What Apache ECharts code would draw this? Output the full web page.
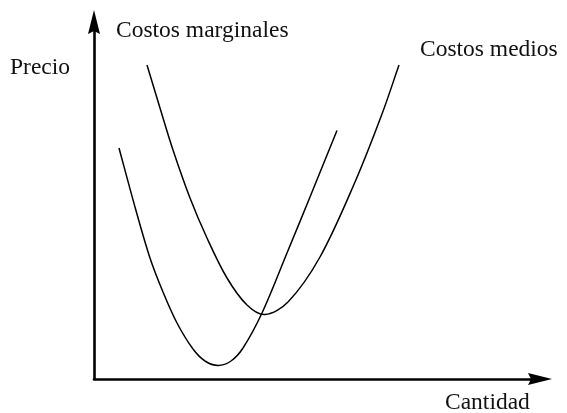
<!DOCTYPE html>
<html>
<head>
<meta charset="utf-8">
<script src="https://cdn.jsdelivr.net/npm/echarts@6/dist/echarts.min.js"></script>
<style>html,body{margin:0;padding:0;background:#fff}#c{width:567px;height:413px}</style>
</head>
<body>
<div id="c"></div>
<script>
// Curve data (cantidad, precio) in arbitrary units
var costosMarginales = [
  [25, 231], [41, 172], [56, 121], [69, 87], [83, 56], [99, 30], [111, 18], [124, 13.5],
  [137, 18], [149, 31], [168, 66], [193, 126], [216, 182], [243, 248.5]
];
var costosMedios = [
  [53, 314], [66, 271], [79, 229], [96, 181], [113, 141], [133, 101], [153, 74], [171, 64.5],
  [194, 77], [226, 122], [261, 197], [288, 265], [305, 314]
];
var labelMarginales = 'Costos marginales';
var labelMedios = 'Costos medios';
var labelPrecio = 'Precio';
var labelCantidad = 'Cantidad';

var FONT = '"Liberation Serif", "Times New Roman", serif';
var ARROW = 'path://M6,0 L12,24 L6,21 L0,24 Z';
var chart = echarts.init(document.getElementById('c'), null, {renderer: 'canvas'});
function txt(t, x, y) {
  return {type: 'text', x: x, y: y, style: {text: t, fontSize: 23.5, fontFamily: FONT, fill: '#111', align: 'left', verticalAlign: 'middle'}};
}
// Smooth curve through the data points (mapped with api.coord), drawn as bezier segments
function curveRenderer(values) {
  return function (params, api) {
    if (params.dataIndex !== 0) return null;
    var p = values.map(function (d) { return api.coord(d); });
    var n = p.length;
    function dist(a, b) { return Math.hypot(b[0] - a[0], b[1] - a[1]); }
    function tangent(i) {
      if (i === 0) { var d = dist(p[0], p[1]); return [(p[1][0] - p[0][0]) / d, (p[1][1] - p[0][1]) / d]; }
      if (i === n - 1) { var e = dist(p[n - 2], p[n - 1]); return [(p[n - 1][0] - p[n - 2][0]) / e, (p[n - 1][1] - p[n - 2][1]) / e]; }
      var s = dist(p[i - 1], p[i]) + dist(p[i], p[i + 1]);
      return [(p[i + 1][0] - p[i - 1][0]) / s, (p[i + 1][1] - p[i - 1][1]) / s];
    }
    var children = [];
    for (var i = 0; i < n - 1; i++) {
      var L = dist(p[i], p[i + 1]) / 3;
      var t0 = tangent(i), t1 = tangent(i + 1);
      children.push({
        type: 'bezierCurve',
        shape: {
          x1: p[i][0], y1: p[i][1], x2: p[i + 1][0], y2: p[i + 1][1],
          cpx1: p[i][0] + t0[0] * L, cpy1: p[i][1] + t0[1] * L,
          cpx2: p[i + 1][0] - t1[0] * L, cpy2: p[i + 1][1] - t1[1] * L
        },
        style: {stroke: '#000', lineWidth: 1.5, fill: null}
      });
    }
    return {type: 'group', children: children};
  };
}
chart.setOption({
  animation: false,
  backgroundColor: '#fff',
  grid: {left: 94, top: 22, right: 27, bottom: 34},
  xAxis: {
    type: 'value', min: 0, max: 446,
    axisLine: {show: true, lineStyle: {color: '#000', width: 2.6}, symbol: ['none', ARROW], symbolSize: [12, 24]},
    axisTick: {show: false}, axisLabel: {show: false}, splitLine: {show: false}
  },
  yAxis: {
    type: 'value', min: 0, max: 357,
    axisLine: {show: true, lineStyle: {color: '#000', width: 2.6}, symbol: ['none', ARROW], symbolSize: [12, 24]},
    axisTick: {show: false}, axisLabel: {show: false}, splitLine: {show: false}
  },
  series: [
    {type: 'custom', name: labelMarginales, data: costosMarginales, encode: {x: 0, y: 1}, renderItem: curveRenderer(costosMarginales)},
    {type: 'custom', name: labelMedios, data: costosMedios, encode: {x: 0, y: 1}, renderItem: curveRenderer(costosMedios)}
  ],
  graphic: [
    txt(labelMarginales, 116, 31),
    txt(labelMedios, 420, 50),
    txt(labelPrecio, 10, 68),
    txt(labelCantidad, 445, 403)
  ]
});
</script>
</body>
</html>
